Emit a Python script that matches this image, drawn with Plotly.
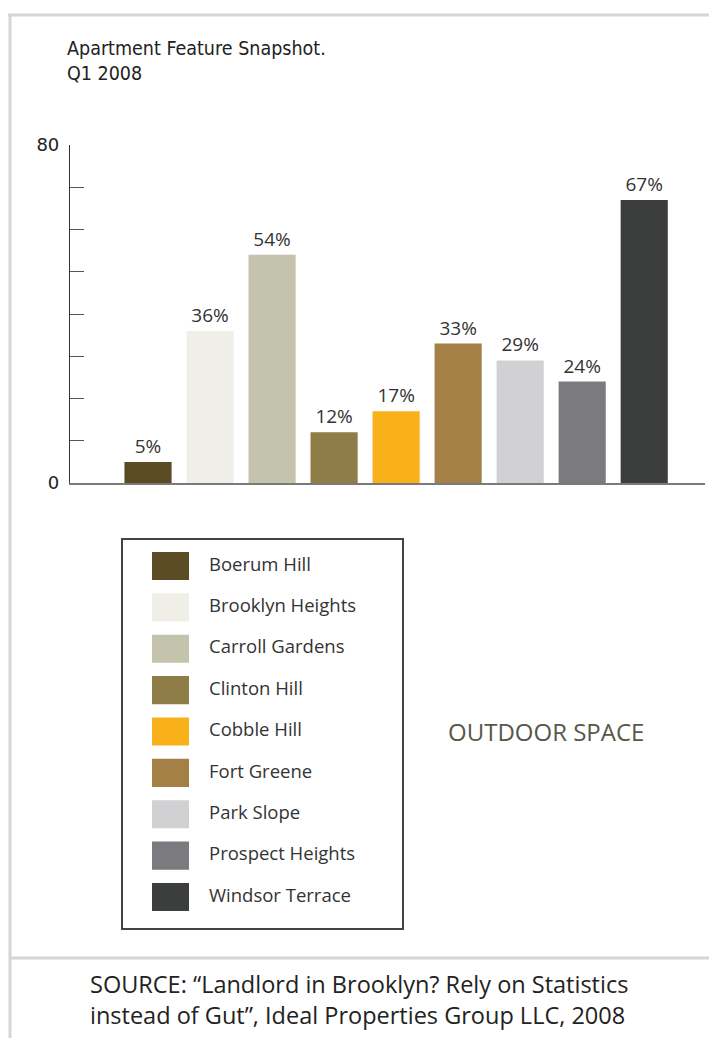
import plotly.graph_objects as go

# page body margin is 8px; figure sized so the page fits the 717x1046 window
OFF = 8
W, H = 717 - 2 * OFF, 1046 - 2 * OFF

neighborhoods = ["Boerum Hill", "Brooklyn Heights", "Carroll Gardens", "Clinton Hill",
                 "Cobble Hill", "Fort Greene", "Park Slope", "Prospect Heights", "Windsor Terrace"]
outdoor_pct = [5, 36, 54, 12, 17, 33, 29, 24, 67]
colors = ["#5b4b24", "#efefe8", "#c4c3ab", "#8e7d46", "#f8b11a",
          "#a47f46", "#d1d1d3", "#7b7b7f", "#3c3d3d"]
y_tickvals = [0, 10, 20, 30, 40, 50, 60, 70, 80]
y_ticktext = ["0", "", "", "", "", "", "", "", "80"]


def px_x(p):
    return (p - OFF) / W


def px_y(p):
    return 1 - (p - OFF) / H


idx = list(range(len(neighborhoods)))

fig = go.Figure()

# main bars
fig.add_trace(go.Bar(
    x=idx, y=outdoor_pct, marker=dict(color=colors, line=dict(width=0)),
    width=0.76, text=[f"{v}%" for v in outdoor_pct], textposition="outside",
    textfont=dict(family="Open Sans", size=19, color="#333333"),
    cliponaxis=False, hoverinfo="skip", showlegend=False,
    xaxis="x", yaxis="y"))

# custom legend: swatches + labels
fig.add_trace(go.Bar(
    y=idx, x=[37] * len(idx), base=29, orientation="h", width=0.68,
    marker=dict(color=colors, line=dict(width=0)), hoverinfo="skip",
    showlegend=False, xaxis="x2", yaxis="y2"))
fig.add_trace(go.Scatter(
    y=idx, x=[86] * len(idx), mode="text", text=neighborhoods,
    textposition="middle right",
    textfont=dict(family="Open Sans", size=18.5, color="#333333"),
    hoverinfo="skip", showlegend=False, xaxis="x2", yaxis="y2"))

fig.update_layout(
    width=W, height=H, autosize=False,
    margin=dict(l=0, r=0, t=0, b=0, autoexpand=False),
    paper_bgcolor="white", plot_bgcolor="rgba(0,0,0,0)",
    xaxis=dict(domain=[px_x(70), px_x(705)], range=[-1.258, 8.98],
               showticklabels=False, ticks="", showgrid=False, zeroline=False,
               showline=True, linecolor="#7a7a7a", linewidth=1.5, fixedrange=True,
               automargin=False),
    yaxis=dict(domain=[px_y(483), px_y(145)], range=[0, 80],
               tickvals=y_tickvals, ticktext=y_ticktext, ticks="inside",
               ticklen=14, tickwidth=1.2, tickcolor="#555555",
               ticklabelstandoff=6, automargin=False,
               tickfont=dict(family="DejaVu Sans", size=18, color="#222222"),
               showgrid=False, zeroline=False, showline=True,
               linecolor="#333333", linewidth=1.2, fixedrange=True),
    xaxis2=dict(domain=[px_x(123), px_x(402)], range=[0, 279], anchor="y2",
                showticklabels=False, ticks="", showgrid=False, zeroline=False,
                showline=True, mirror=True, linecolor="#444444", linewidth=1.5,
                fixedrange=True, automargin=False),
    yaxis2=dict(domain=[px_y(928), px_y(540)], range=[8.75, -0.63], anchor="x2",
                showticklabels=False, ticks="", showgrid=False, zeroline=False,
                showline=True, mirror=True, linecolor="#444444", linewidth=1.5,
                fixedrange=True, automargin=False),
    shapes=[
        dict(type="line", xref="paper", yref="paper", x0=px_x(8), x1=1,
             y0=px_y(15), y1=px_y(15), line=dict(color="#d6d6d6", width=3)),
        dict(type="line", xref="paper", yref="paper", x0=px_x(10), x1=px_x(10),
             y0=px_y(14), y1=0, line=dict(color="#d6d6d6", width=3)),
        dict(type="line", xref="paper", yref="paper", x0=px_x(10), x1=1,
             y0=px_y(958), y1=px_y(958), line=dict(color="#d6d6d6", width=3)),
    ],
    annotations=[
        dict(text="Apartment Feature Snapshot.<br>Q1 2008", xref="paper", yref="paper",
             x=px_x(65), y=px_y(35), xanchor="left", yanchor="top", align="left",
             showarrow=False,
             font=dict(family="Liberation Sans Narrow, DejaVu Sans Condensed, sans-serif",
                       size=19.5, color="#222222")),
        dict(text="OUTDOOR SPACE", xref="paper", yref="paper",
             x=px_x(546), y=px_y(731), xanchor="center", yanchor="middle",
             showarrow=False,
             font=dict(family="Open Sans", size=24, color="#55584a")),
        dict(text="SOURCE: \u201cLandlord in Brooklyn? Rely on Statistics<br>instead of Gut\u201d, Ideal Properties Group LLC, 2008",
             xref="paper", yref="paper", x=px_x(88), y=px_y(966),
             xanchor="left", yanchor="top", align="left", showarrow=False,
             font=dict(family="Open Sans", size=23.5, color="#222222")),
    ],
)

fig.write_html("out.html")
